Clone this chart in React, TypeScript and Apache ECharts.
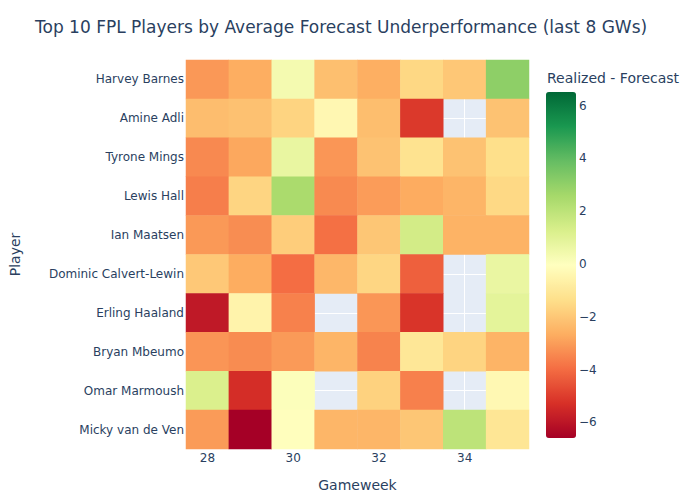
import React, { useEffect, useRef } from "react";
import * as echarts from "echarts";

const gameweeks = ["28", "29", "30", "31", "32", "33", "34", "35"];
const players = [
  "Harvey Barnes",
  "Amine Adli",
  "Tyrone Mings",
  "Lewis Hall",
  "Ian Maatsen",
  "Dominic Calvert-Lewin",
  "Erling Haaland",
  "Bryan Mbeumo",
  "Omar Marmoush",
  "Micky van de Ven",
];

// Realized - Forecast per gameweek (null = no data)
const harveyBarnes = [-3.06, -2.62, 0.38, -2.17, -2.6, -1.52, -1.96, 3.11];
const amineAdli = [-2.23, -2.12, -1.62, -0.34, -2.2, -5.05, null, -2.1];
const tyroneMings = [-3.37, -2.74, 0.76, -3.1, -2.1, -1.18, -2.1, -1.31];
const lewisHall = [-3.59, -1.6, 2.49, -3.35, -2.98, -2.66, -2.44, -1.5];
const ianMaatsen = [-3.05, -3.29, -1.81, -3.87, -1.99, 1.47, -2.49, -2.5];
const calvertLewin = [-1.94, -2.65, -3.93, -2.38, -1.57, -4.2, null, 0.72];
const erlingHaaland = [-5.87, -0.51, -3.53, null, -3.1, -5.15, null, 0.93];
const bryanMbeumo = [-3.12, -3.3, -3.02, -2.44, -3.48, -1.01, -1.62, -2.46];
const omarMarmoush = [1.25, -5.32, 0.1, null, -1.68, -3.55, null, -0.3];
const mickyVanDeVen = [-3.0, -6.55, -0.05, -2.4, -2.4, -2.0, 2.03, -1.05];

const rows = [
  harveyBarnes,
  amineAdli,
  tyroneMings,
  lewisHall,
  ianMaatsen,
  calvertLewin,
  erlingHaaland,
  bryanMbeumo,
  omarMarmoush,
  mickyVanDeVen,
];

const colorbarTicks = [6, 4, 2, 0, -2, -4, -6];
const zMax = 6.55;
const zMin = -6.55;

const rdYlGn = [
  "#a50026",
  "#d73027",
  "#f46d43",
  "#fdae61",
  "#fee08b",
  "#ffffbf",
  "#d9ef8b",
  "#a6d96a",
  "#66bd63",
  "#1a9850",
  "#006837",
];

const TEXT = "#2a3f5f";
const FONT = "'DejaVu Sans', Verdana, sans-serif";

export default function App() {
  const ref = useRef<HTMLDivElement>(null);

  useEffect(() => {
    if (!ref.current) return;
    const chart = echarts.init(ref.current, null, { renderer: "svg" });

    const data: any[] = [];
    rows.forEach((vals, yi) => {
      vals.forEach((v, xi) => {
        if (v !== null) data.push([xi, yi, v]);
      });
    });

    const barTop = 92;
    const barHeight = 346;
    const barLeft = 546;
    const barWidth = 30;

    const tickTexts = colorbarTicks.map((t) => ({
      type: "text",
      left: 579,
      top: barTop + ((zMax - t) / (zMax - zMin)) * barHeight - 7,
      style: {
        text: t < 0 ? "\u2212" + Math.abs(t) : String(t),
        fill: TEXT,
        font: `12px ${FONT}`,
        textVerticalAlign: "top",
      },
    }));

    const gridLines = [
      ...gameweeks.filter((_, i) => i % 2 === 0).map((g) => ({ xAxis: g })),
      ...players.map((p) => ({ yAxis: p })),
    ];

    chart.setOption({
      animation: false,
      textStyle: { fontFamily: FONT, color: TEXT },
      title: {
        text: "Top 10 FPL Players by Average Forecast Underperformance (last 8 GWs)",
        left: 30,
        top: 13,
        textStyle: { fontSize: 17, fontWeight: "normal", color: TEXT, fontFamily: FONT },
      },
      grid: {
        left: 171,
        right: 171,
        top: 60,
        bottom: 51,
        show: true,
        backgroundColor: "#E5ECF6",
        borderWidth: 0,
      },
      xAxis: {
        type: "category",
        data: gameweeks,
        name: "Gameweek",
        nameLocation: "middle",
        nameGap: 29,
        nameTextStyle: { fontSize: 14, color: TEXT, fontFamily: FONT },
        axisLine: { show: false },
        axisTick: { show: false },
        splitLine: { show: false },
        axisLabel: { interval: 1, fontSize: 12, color: TEXT, margin: 3, fontFamily: FONT },
      },
      yAxis: {
        type: "category",
        data: players,
        inverse: true,
        name: "Player",
        nameLocation: "middle",
        nameGap: 164,
        nameRotate: 90,
        nameTextStyle: { fontSize: 14, color: TEXT, fontFamily: FONT },
        axisLine: { show: false },
        axisTick: { show: false },
        splitLine: { show: false },
        axisLabel: { fontSize: 12, color: TEXT, margin: 2, fontFamily: FONT },
      },
      visualMap: {
        type: "continuous",
        min: zMin,
        max: zMax,
        seriesIndex: 0,
        dimension: 2,
        calculable: false,
        orient: "vertical",
        left: barLeft,
        top: barTop,
        itemWidth: barWidth,
        itemHeight: barHeight,
        padding: 0,
        inRange: { color: rdYlGn },
        hoverLink: false,
      },
      graphic: [
        {
          type: "text",
          left: 547,
          top: 71,
          style: {
            text: "Realized - Forecast",
            fill: TEXT,
            font: `14px ${FONT}`,
          },
        },
        ...tickTexts,
      ],
      series: [
        {
          type: "heatmap",
          data,
          z: 3,
          itemStyle: { borderWidth: 0 },
          emphasis: { disabled: true },
        },
        {
          type: "line",
          data: [],
          z: 1,
          silent: true,
          markLine: {
            z: 1,
            silent: true,
            symbol: "none",
            label: { show: false },
            lineStyle: { color: "#ffffff", width: 1, type: "solid" },
            data: gridLines,
          },
        },
      ],
    });

    return () => chart.dispose();
  }, []);

  return (
    <div
      ref={ref}
      style={{ position: "absolute", left: 0, top: 0, width: 700, height: 500 }}
    />
  );
}
